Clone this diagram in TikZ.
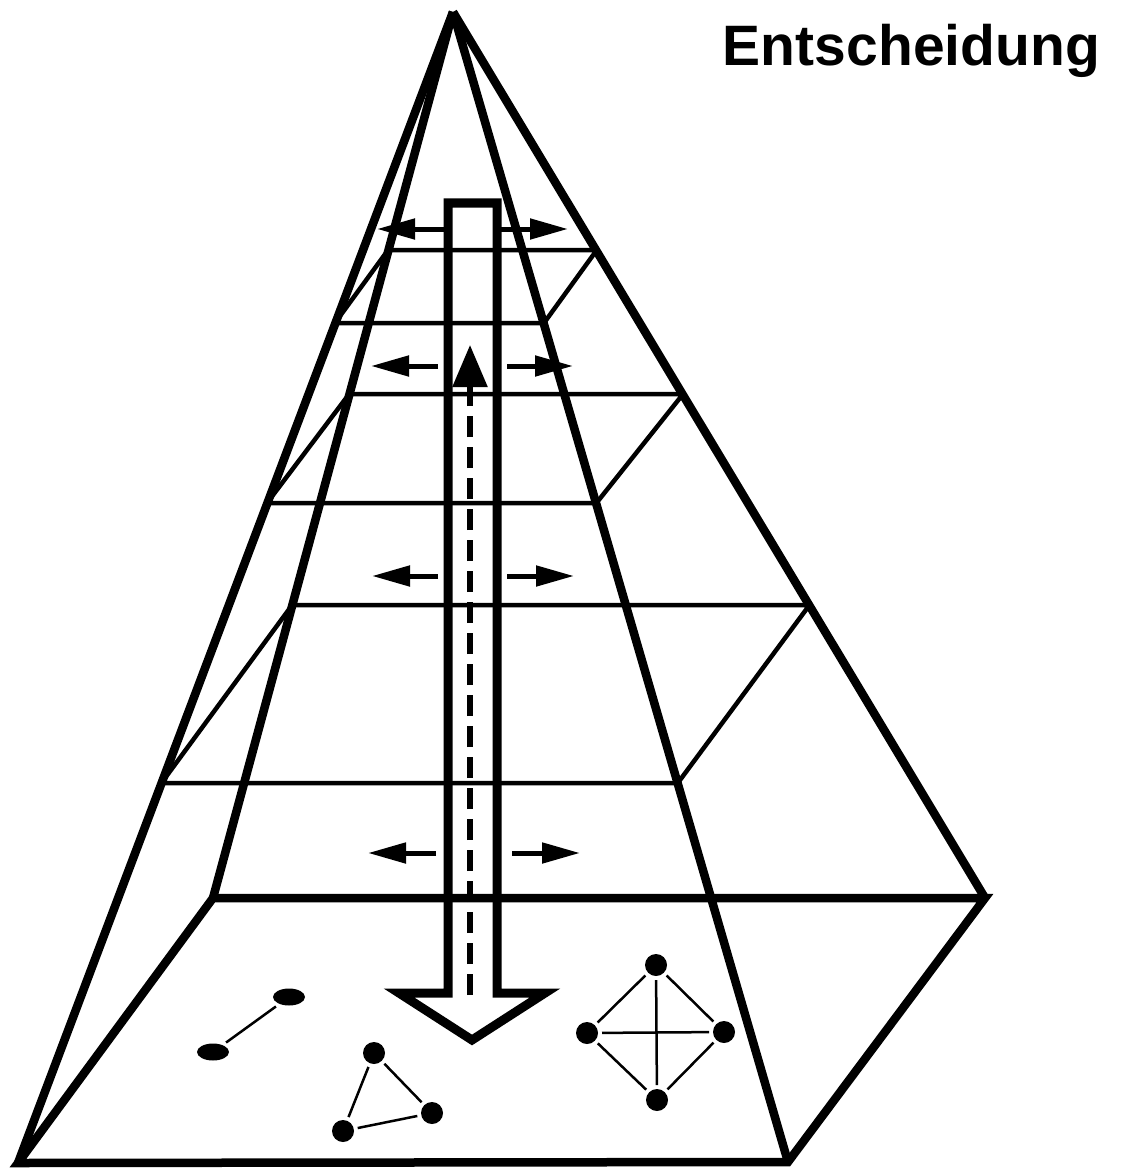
\documentclass[tikz,border=0pt]{standalone}
\usepackage{fontspec}
\setmainfont{Liberation Sans}
\usetikzlibrary{arrows.meta,shapes.geometric}
\tikzset{
  thickedge/.style={line width=8.5pt},
  thinedge/.style={line width=4.5pt},
  sidearrow/.style={line width=5pt,-{Triangle[length=38pt,width=20pt]}},
  shaftline/.style={line width=9pt,line join=miter},
  dashline/.style={line width=5.5pt,dash pattern=on 21pt off 10pt,-{Triangle[length=42pt,width=34pt]}},
  dot/.style={circle,fill=black,minimum size=22pt,inner sep=0pt,outer sep=4pt},
  oval/.style={ellipse,fill=black,minimum width=32pt,minimum height=17pt,inner sep=0pt,outer sep=4pt},
  link/.style={line width=2.5pt},
}
\begin{document}
\begin{tikzpicture}[x=1pt,y=-1pt]
\useasboundingbox (0,0) rectangle (1122,1169);
% corners
\coordinate (A) at (453,12);
\coordinate (FL) at (18,1163);
\coordinate (FR) at (788,1162);
\coordinate (BR) at (985,898);
\coordinate (BL) at (213,898);
% base
\draw[thickedge,line join=miter] (FL) -- (BL) -- (BR) -- (FR) -- cycle;
% edges
\draw[thickedge] (A) -- (FL);
\draw[thickedge] (A) -- (BL);
\draw[thickedge] (A) -- (FR);
\draw[thickedge] (A) -- (BR);
% level 1
\coordinate (l1a) at (388.1,250); \coordinate (l1b) at (596.8,250);
\coordinate (l1c) at (334.9,323); \coordinate (l1d) at (544.0,323);
\draw[thinedge] (l1a) -- (l1b) (l1c) -- (l1d) (l1a) -- (l1c) (l1b) -- (l1d);
% level 2
\coordinate (l2a) at (349.2,394); \coordinate (l2b) at (683.1,394);
\coordinate (l2c) at (267.0,503); \coordinate (l2d) at (596.4,503);
\draw[thinedge] (l2a) -- (l2b) (l2c) -- (l2d) (l2a) -- (l2c) (l2b) -- (l2d);
% level 3
\coordinate (l3a) at (292.2,605); \coordinate (l3b) at (809.5,605);
\coordinate (l3c) at (161.4,783); \coordinate (l3d) at (677.8,783);
\draw[thinedge] (l3a) -- (l3b) (l3c) -- (l3d) (l3a) -- (l3c) (l3b) -- (l3d);
% central hollow arrow
\draw[shaftline] (448,203) -- (497,203) -- (497,993) -- (545,993) -- (472,1040) -- (399,993) -- (448,993) -- cycle;
% dashed upward arrow
\coordinate (dbot) at (470,995);
\coordinate (dtop) at (470,345);
\draw[dashline] (dbot) -- (dtop);
% side arrows
\coordinate (s1l) at (448,229); \coordinate (s1lt) at (377,229);
\coordinate (s1r) at (497,229); \coordinate (s1rt) at (568,229);
\coordinate (s2l) at (438,366); \coordinate (s2lt) at (371,366);
\coordinate (s2r) at (507,366); \coordinate (s2rt) at (573,366);
\coordinate (s3l) at (438,576); \coordinate (s3lt) at (372,576);
\coordinate (s3r) at (507,576); \coordinate (s3rt) at (574,576);
\coordinate (s4l) at (436,853); \coordinate (s4lt) at (368,853);
\coordinate (s4r) at (512,853); \coordinate (s4rt) at (580,853);
\foreach \i in {1,2,3,4}{
  \draw[sidearrow] (s\i l) -- (s\i lt);
  \draw[sidearrow] (s\i r) -- (s\i rt);
}
% graphs on base
\node[oval] (e1) at (289,997) {};
\node[oval] (e2) at (213,1052) {};
\draw[link] (e1) -- (e2);
\node[dot] (t1) at (374,1053) {};
\node[dot] (t2) at (432,1113) {};
\node[dot] (t3) at (343,1131) {};
\draw[link] (t1) -- (t2) (t1) -- (t3) (t3) -- (t2);
\node[dot] (kt) at (656,965) {};
\node[dot] (kl) at (587,1033) {};
\node[dot] (kr) at (724,1032) {};
\node[dot] (kb) at (657,1100) {};
\draw[link] (kt) -- (kl) (kt) -- (kr) (kl) -- (kb) (kr) -- (kb) (kt) -- (kb) (kl) -- (kr);
% title
\node[anchor=base east,inner sep=0pt,font=\bfseries\fontsize{57}{62}\selectfont] (title) at (1100,66) {Entscheidung};
\end{tikzpicture}
\end{document}
